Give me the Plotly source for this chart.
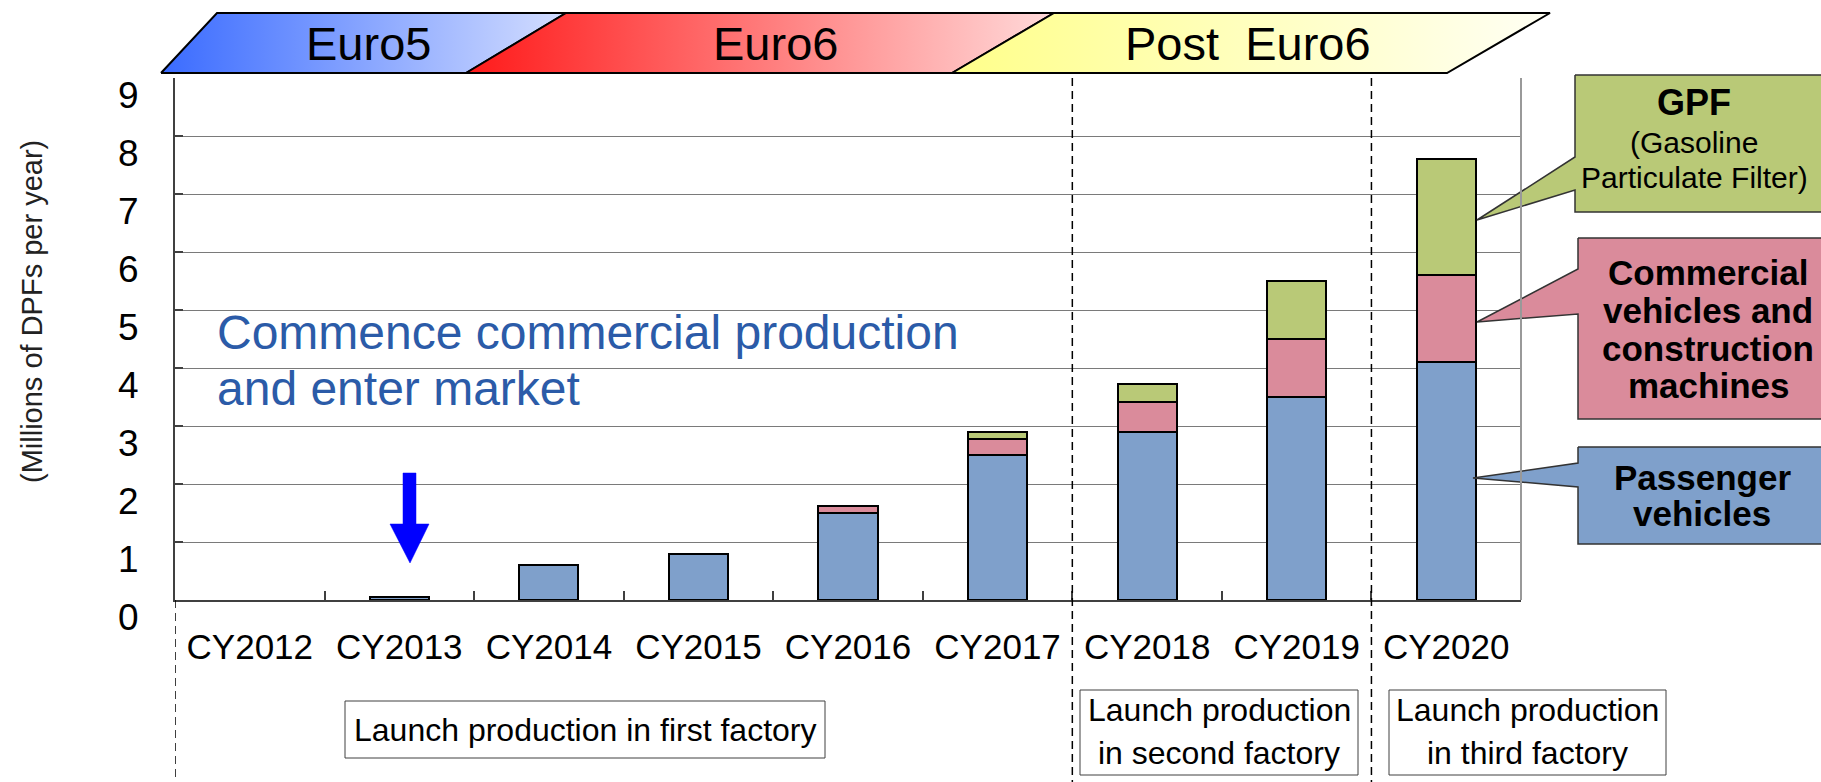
import plotly.graph_objects as go

W, H = 1821, 782

# ---------------- data ----------------
categories = ["CY2012", "CY2013", "CY2014", "CY2015", "CY2016",
              "CY2017", "CY2018", "CY2019", "CY2020"]
passenger = [None, 0.05, 0.6, 0.8, 1.5, 2.5, 2.9, 3.5, 4.1]
commercial = [None, None, None, None, 0.12, 0.28, 0.52, 1.0, 1.5]
gpf = [None, None, None, None, None, 0.12, 0.3, 1.0, 2.0]
y_ticks = list(range(0, 10))

series_names = ["Passenger vehicles",
                "Commercial vehicles and construction machines",
                "GPF (Gasoline Particulate Filter)"]
series_colors = ["#7FA0CB", "#DA8B9B", "#B9C977"]

eras = ["Euro5", "Euro6", "Post\u00a0 Euro6"]
era_colors = [("#3a6bff", "#d4deff"), ("#ff1a1a", "#ffdada"), ("#ffff8a", "#fffff4")]

callout_gpf = ["<b>GPF</b>", "(Gasoline", "Particulate Filter)"]
callout_com = ["Commercial", "vehicles and", "construction", "machines"]
callout_pas = ["Passenger", "vehicles"]

milestone = ["Commence commercial production", "and enter market"]
factory_notes = [["Launch production in first factory"],
                 ["Launch production", "in second factory"],
                 ["Launch production", "in third factory"]]

FONT = "Arial, Liberation Sans, sans-serif"

# plot area in pixels
PL, PR, PT, PB = 175, 1521, 78, 600


def fx(x):
    return x / W


def fy(y):
    return 1 - y / H


fig = go.Figure()

# ---------------- stacked bars ----------------
for vals, name, col in zip([passenger, commercial, gpf], series_names, series_colors):
    fig.add_trace(go.Bar(
        x=categories, y=vals, name=name,
        marker=dict(color=col, line=dict(color="#000000", width=2)),
        showlegend=False, hoverinfo="skip"))

# ---------------- overlay (pixel space) decorations ----------------
ban_x = [[161, 217, 566, 466, 161],
         [466, 566, 1054, 952, 466],
         [952, 1054, 1550, 1447, 952]]
ban_y = [73, 13, 13, 73, 73]
for bx, (c1, c2) in zip(ban_x, era_colors):
    fig.add_trace(go.Scatter(
        x=bx, y=ban_y, xaxis="x2", yaxis="y2", mode="lines",
        fill="toself",
        fillgradient=dict(type="horizontal", colorscale=[[0, c1], [1, c2]]),
        line=dict(color="#000000", width=2),
        showlegend=False, hoverinfo="skip"))

# blue down arrow
fig.add_trace(go.Scatter(
    x=[403, 416, 416, 429, 410, 390, 403, 403],
    y=[473, 473, 524, 524, 563, 524, 524, 473],
    xaxis="x2", yaxis="y2", mode="lines", fill="toself",
    fillcolor="#0000FF", line=dict(color="#0000FF", width=0.5),
    showlegend=False, hoverinfo="skip"))

# callouts
callouts = [
    ([1575, 1830, 1830, 1575, 1575, 1477, 1575, 1575],
     [75, 75, 212, 212, 190, 220, 157, 75], series_colors[2]),
    ([1578, 1830, 1830, 1578, 1578, 1477, 1578, 1578],
     [238, 238, 419, 419, 314, 322, 269, 238], series_colors[1]),
    ([1578, 1830, 1830, 1578, 1578, 1473, 1578, 1578],
     [447, 447, 544, 544, 487, 478, 463, 447], series_colors[0]),
]
for cx, cy, col in callouts:
    fig.add_trace(go.Scatter(
        x=cx, y=cy, xaxis="x2", yaxis="y2", mode="lines", fill="toself",
        fillcolor=col, line=dict(color="#333333", width=1.5),
        showlegend=False, hoverinfo="skip"))

# ---------------- shapes ----------------
shapes = []
shapes.append(dict(type="line", xref="paper", yref="paper",
                   x0=fx(PR), x1=fx(PR), y0=fy(PB), y1=fy(PT),
                   line=dict(color="#999999", width=2)))
shapes.append(dict(type="line", xref="x", yref="paper", x0=-0.5, x1=-0.5,
                   y0=fy(PB), y1=0, line=dict(color="#000000", width=1.5, dash="8px,5px")))
for xb in [5.5, 7.5]:
    shapes.append(dict(type="line", xref="x", yref="paper", x0=xb, x1=xb,
                       y0=fy(PT), y1=0, line=dict(color="#000000", width=1.5, dash="8px,5px")))
boxes = [(345, 825, 701, 758), (1080, 1358, 690, 775), (1389, 1666, 690, 775)]
for x0, x1, y0, y1 in boxes:
    shapes.append(dict(type="rect", xref="paper", yref="paper",
                       x0=fx(x0), x1=fx(x1), y0=fy(y1), y1=fy(y0),
                       fillcolor="white", line=dict(color="#404040", width=1)))

# ---------------- annotations ----------------
ann = []


def text(x, y, s, size, color="#000000", xanchor="center", angle=0):
    ann.append(dict(x=fx(x), y=fy(y), xref="paper", yref="paper", text=s,
                    showarrow=False, xanchor=xanchor, yanchor="middle",
                    textangle=angle,
                    font=dict(family=FONT, size=size, color=color)))


for (xc, s) in zip([368, 775, 1248], eras):
    text(xc, 43, s, 47)

text(32, 312, "(Millions of DPFs per year)", 29, color="#222222", angle=-90)

for yy, s in zip([332, 388], milestone):
    text(215, yy, s, 48, color="#2B5BA8", xanchor="left")

gpf_pos = [(1694, 102, 36), (1694, 142, 30), (1694, 177, 30)]
for (xx, yy, sz), s in zip(gpf_pos, callout_gpf):
    text(xx, yy, s, sz)
for yy, s in zip([273, 310, 348, 385], callout_com):
    text(1708, yy, "<b>%s</b>" % s, 35)
for yy, s in zip([477, 513], callout_pas):
    text(1702, yy, "<b>%s</b>" % s, 35)

note_pos = [(585, [730]), (1219, [710, 753]), (1527, [710, 753])]
for (xx, ys), lines in zip(note_pos, factory_notes):
    for yy, s in zip(ys, lines):
        text(xx, yy, s, 32)

fig.update_layout(
    width=W, height=H,
    margin=dict(l=0, r=0, t=0, b=0, pad=0, autoexpand=False),
    paper_bgcolor="white", plot_bgcolor="rgba(0,0,0,0)",
    barmode="stack", bargap=0.605,
    showlegend=False,
    font=dict(family=FONT, color="#000000"),
    xaxis=dict(domain=[fx(PL), fx(PR)], type="category",
               categoryorder="array", categoryarray=categories,
               range=[-0.5, 8.5], automargin=False,
               showline=True, linecolor="#404040", linewidth=2,
               ticks="inside", tickson="boundaries", ticklen=9,
               tickcolor="#404040", tickwidth=1.5,
               tickfont=dict(family=FONT, size=35, color="#000000"),
               ticklabelstandoff=15,
               showgrid=False, zeroline=False, fixedrange=True),
    yaxis=dict(domain=[fy(PB), fy(PT)], range=[0, 9], automargin=False,
               tickmode="array", tickvals=y_ticks,
               ticktext=[str(v) for v in y_ticks],
               showgrid=True, gridcolor="#7a7a7a", gridwidth=1,
               showline=True, linecolor="#404040", linewidth=2,
               ticks="inside", ticklen=8, tickcolor="#404040", tickwidth=1.5,
               tickfont=dict(family=FONT, size=37, color="#000000"),
               ticklabelstandoff=27, ticklabelshift=17,
               zeroline=False, fixedrange=True),
    xaxis2=dict(domain=[0, 1], range=[0, W], visible=False, anchor="y2",
                automargin=False, fixedrange=True),
    yaxis2=dict(domain=[0, 1], range=[H, 0], visible=False, anchor="x2",
                automargin=False, fixedrange=True),
    shapes=shapes,
    annotations=ann,
)

fig.write_html("out.html", config={"displayModeBar": False},
               post_script="document.body.style.margin='0px';"
                           "document.body.style.overflow='hidden';")
